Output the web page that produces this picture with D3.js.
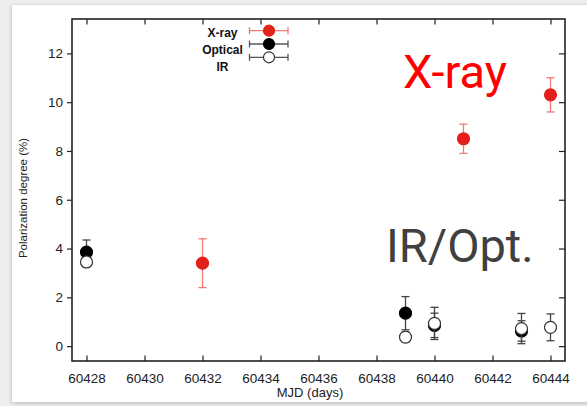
<!DOCTYPE html>
<html><head><meta charset="utf-8">
<script src="https://cdn.jsdelivr.net/npm/d3@7"></script>
<style>html,body{margin:0;padding:0;background:#efefef;}svg{display:block;}</style>
</head><body>
<svg id="c" width="587" height="406"></svg>
<script>
// ---- data ----
const xrayDays = [60432, 60441, 60444];
const xrayValues = [3.4, 8.5, 10.3];
const xrayErr = [1.0, 0.6, 0.7];
const optDays = [60428, 60439, 60440, 60443];
const optValues = [3.85, 1.35, 0.85, 0.62];
const optErr = [0.5, 0.68, 0.5, 0.42];
const irDays = [60428, 60439, 60440, 60443, 60444];
const irValues = [3.45, 0.37, 0.93, 0.72, 0.77];
const irErr = [0.2, 0.2, 0.66, 0.62, 0.55];
const xTicks = [60428, 60430, 60432, 60434, 60436, 60438, 60440, 60442, 60444];
const yTicks = [0, 2, 4, 6, 8, 10, 12];
const legendNames = ["X-ray", "Optical", "IR"];

const svg = d3.select("#c");
const defs = svg.append("defs");
const f = defs.append("filter").attr("id","sh").attr("x","-5%").attr("y","-5%").attr("width","110%").attr("height","110%");
f.append("feDropShadow").attr("dx",0).attr("dy",1).attr("stdDeviation",2).attr("flood-color","#000").attr("flood-opacity",0.25);
svg.append("rect").attr("x",12).attr("y",5).attr("width",590).attr("height",397).attr("fill","#fff").attr("filter","url(#sh)");

const L = 72, R = 565, T = 19, B = 361;
const x = d3.scaleLinear().domain([60427.5, 60444.5]).range([L, R]);
const y = d3.scaleLinear().domain([-0.61, 13.41]).range([B, T]);

const g = svg.append("g");
const axisColor = "#222";
// bottom axis (inward ticks)
const bx = g.append("g").attr("transform",`translate(0,${B})`)
  .call(d3.axisBottom(x).tickValues(xTicks).tickFormat(d3.format("d")).tickSizeInner(-5.5).tickSizeOuter(0).tickPadding(12));
// top axis
const tx = g.append("g").attr("transform",`translate(0,${T})`)
  .call(d3.axisTop(x).tickValues(xTicks).tickFormat("").tickSizeInner(-5.5).tickSizeOuter(0));
// left axis outward
const ly = g.append("g").attr("transform",`translate(${L},0)`)
  .call(d3.axisLeft(y).tickValues(yTicks).tickSizeInner(5).tickSizeOuter(0).tickPadding(4));
// right axis inward
const ry = g.append("g").attr("transform",`translate(${R},0)`)
  .call(d3.axisRight(y).tickValues(yTicks).tickFormat("").tickSizeInner(-6).tickSizeOuter(0));
[bx,tx,ly,ry].forEach(a=>{
  a.select(".domain").remove();
  a.selectAll(".tick line").attr("stroke",axisColor).attr("stroke-width",1.2);
  a.selectAll("text").attr("font-family","Liberation Sans, Arial, sans-serif").attr("font-size",13.5).attr("fill","#222");
});
g.append("rect").attr("x",L).attr("y",T).attr("width",R-L).attr("height",B-T)
  .attr("fill","none").attr("stroke",axisColor).attr("stroke-width",1.6);

// axis titles
svg.append("text").attr("transform",`translate(27,${(T+B)/2+8}) rotate(-90)`).attr("text-anchor","middle")
  .attr("font-family","Liberation Sans, Arial, sans-serif").attr("font-size",11.5).attr("fill","#222").text("Polarization degree (%)");
svg.append("text").attr("x",310).attr("y",397).attr("text-anchor","middle")
  .attr("font-family","Liberation Sans, Arial, sans-serif").attr("font-size",13).attr("fill","#222").text("MJD (days)");

// series
function drawSeries(days, vals, errs, fill, stroke, errColor) {
  const data = days.map((d,i)=>({d, v: vals[i], e: errs[i]}));
  const s = svg.append("g");
  const eb = s.selectAll("g.e").data(data).join("g");
  eb.append("line").attr("x1",d=>x(d.d)).attr("x2",d=>x(d.d)).attr("y1",d=>y(d.v-d.e)).attr("y2",d=>y(d.v+d.e))
    .attr("stroke",errColor).attr("stroke-width",1.3);
  eb.append("line").attr("x1",d=>x(d.d)-4).attr("x2",d=>x(d.d)+4).attr("y1",d=>y(d.v-d.e)).attr("y2",d=>y(d.v-d.e))
    .attr("stroke",errColor).attr("stroke-width",1.3);
  eb.append("line").attr("x1",d=>x(d.d)-4).attr("x2",d=>x(d.d)+4).attr("y1",d=>y(d.v+d.e)).attr("y2",d=>y(d.v+d.e))
    .attr("stroke",errColor).attr("stroke-width",1.3);
  s.selectAll("circle").data(data).join("circle").attr("cx",d=>x(d.d)).attr("cy",d=>y(d.v)).attr("r",6)
    .attr("fill",fill).attr("stroke",stroke).attr("stroke-width",1.2);
}
drawSeries(xrayDays, xrayValues, xrayErr, "#e3201b", "#e3201b", "#ef7a76");
drawSeries(optDays, optValues, optErr, "#000", "#000", "#444");
drawSeries(irDays, irValues, irErr, "#fff", "#333", "#444");

// legend
const legStyles = [
  {fill:"#e3201b", stroke:"#e3201b", err:"#ef7a76"},
  {fill:"#000", stroke:"#000", err:"#555"},
  {fill:"#fff", stroke:"#333", err:"#555"}
];
const legMarkY = [30.7, 44, 57.3];
const legTextY = [36.7, 54, 71];
legendNames.forEach((n,i)=>{
  const st = legStyles[i], yy = legMarkY[i];
  svg.append("text").attr("x",222.5).attr("y",legTextY[i]).attr("text-anchor","middle")
    .attr("font-family","Liberation Sans, Arial, sans-serif").attr("font-weight","bold").attr("font-size",12).attr("fill","#111").text(n);
  svg.append("line").attr("x1",249.5).attr("x2",288).attr("y1",yy).attr("y2",yy).attr("stroke",st.err).attr("stroke-width",1.3);
  [249.5,288].forEach(xx=>svg.append("line").attr("x1",xx).attr("x2",xx).attr("y1",yy-3.5).attr("y2",yy+3.5).attr("stroke",st.err).attr("stroke-width",1.3));
  svg.append("circle").attr("cx",269).attr("cy",yy).attr("r",5.5).attr("fill",st.fill).attr("stroke",st.stroke).attr("stroke-width",1.2);
});

// annotations
svg.append("text").attr("x",403).attr("y",88).attr("font-family","Roboto, sans-serif").attr("font-size",47).attr("fill","#ff0000").text("X-ray");
svg.append("text").attr("x",386).attr("y",262).attr("font-family","Roboto, sans-serif").attr("font-size",47).attr("fill","#404040").text("IR/Opt.");
</script>
</body></html>
